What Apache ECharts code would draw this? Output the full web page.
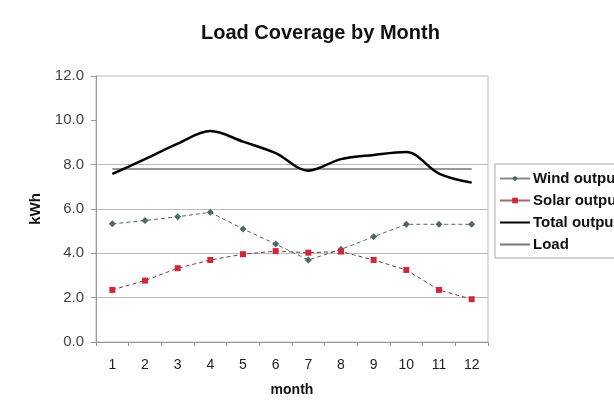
<!DOCTYPE html>
<html><head><meta charset="utf-8">
<script src="https://cdn.jsdelivr.net/npm/echarts@6/dist/echarts.min.js"></script>
<style>html,body{margin:0;padding:0;background:#fff}#c{width:614px;height:411px}</style>
</head><body><div id="c"></div>
<script>
var months = ['1','2','3','4','5','6','7','8','9','10','11','12'];
var windOutput  = [5.33, 5.48, 5.65, 5.85, 5.10, 4.42, 3.70, 4.18, 4.75, 5.31, 5.31, 5.31];
var solarOutput = [2.35, 2.77, 3.33, 3.70, 3.96, 4.10, 4.03, 4.08, 3.70, 3.25, 2.35, 1.93];
var totalOutput = [7.58, 8.25, 8.95, 9.52, 9.04, 8.52, 7.73, 8.25, 8.44, 8.57, 7.60, 7.19];
var load        = [7.8, 7.8, 7.8, 7.8, 7.8, 7.8, 7.8, 7.8, 7.8, 7.8, 7.8, 7.8];
var yTicks = [0, 2, 4, 6, 8, 10, 12];

var chart = echarts.init(document.getElementById('c'));
var font = 'Arial, "Liberation Sans", sans-serif';
chart.setOption({
  backgroundColor: '#fff',
  animation: false,
  title: {
    text: 'Load Coverage by Month', left: 196, top: 18,
    textStyle: {fontFamily: font, fontSize: 20, fontWeight: 'bold', color: '#111'}
  },
  legend: {
    orient: 'vertical', left: 495, top: 164,
    padding: [7, 40, 6, 4], itemGap: 7, itemWidth: 30, itemHeight: 7,
    borderColor: '#aaa', borderWidth: 1,
    textStyle: {fontFamily: font, fontSize: 15, fontWeight: 'bold', color: '#111', padding: [0,0,0,-2]},
    data: [
      {name: 'Wind output', lineStyle: {type: 'solid', color: '#888'}},
      {name: 'Solar output', lineStyle: {type: 'solid', color: '#a66'}},
      {name: 'Total output', itemStyle: {opacity: 0}},
      {name: 'Load', itemStyle: {opacity: 0}}
    ]
  },
  grid: {left: 96, right: 126, top: 76, bottom: 69, show: true, borderColor: '#bbb', borderWidth: 1},
  xAxis: {
    type: 'category', data: months, boundaryGap: true,
    name: 'month', nameLocation: 'middle', nameGap: 41,
    nameTextStyle: {fontFamily: font, fontSize: 14, fontWeight: 'bold', color: '#111'},
    axisLine: {lineStyle: {color: '#999'}},
    axisTick: {show: true, length: 4, lineStyle: {color: '#999'}},
    axisLabel: {fontFamily: font, fontSize: 14, color: '#222', margin: 16}
  },
  yAxis: {
    type: 'value', min: yTicks[0], max: yTicks[yTicks.length-1], interval: 2,
    name: 'kWh', nameLocation: 'middle', nameGap: 53,
    nameTextStyle: {fontFamily: font, fontSize: 15, fontWeight: 'bold', color: '#111'},
    axisLine: {show: true, lineStyle: {color: '#999'}},
    axisTick: {show: true, length: 5, lineStyle: {color: '#999'}},
    axisLabel: {fontFamily: font, fontSize: 15, color: '#444', margin: 12,
      formatter: function (v) { return v.toFixed(1); }},
    splitLine: {show: true, lineStyle: {color: ['transparent', '#bbb', '#bbb', '#bbb', '#bbb', 'transparent', 'transparent'], width: 1}}
  },
  series: [
    {name: 'Wind output', type: 'line', data: windOutput, symbol: 'diamond', symbolSize: 7,
     itemStyle: {color: '#4e6868'}, lineStyle: {color: '#4e6868', width: 1, type: [4, 3]}, z: 3},
    {name: 'Solar output', type: 'line', data: solarOutput, symbol: 'rect', symbolSize: 6,
     itemStyle: {color: '#d0283a'}, lineStyle: {color: '#7a3a40', width: 1, type: [4, 3]}, z: 3},
    {name: 'Total output', type: 'line', data: totalOutput, symbol: 'none', smooth: 0.35,
     itemStyle: {color: '#000'}, lineStyle: {color: '#000', width: 2.5}, z: 4},
    {name: 'Load', type: 'line', data: load, symbol: 'none',
     itemStyle: {color: '#777'}, lineStyle: {color: '#777', width: 1.5}, z: 2}
  ]
});
</script></body></html>
